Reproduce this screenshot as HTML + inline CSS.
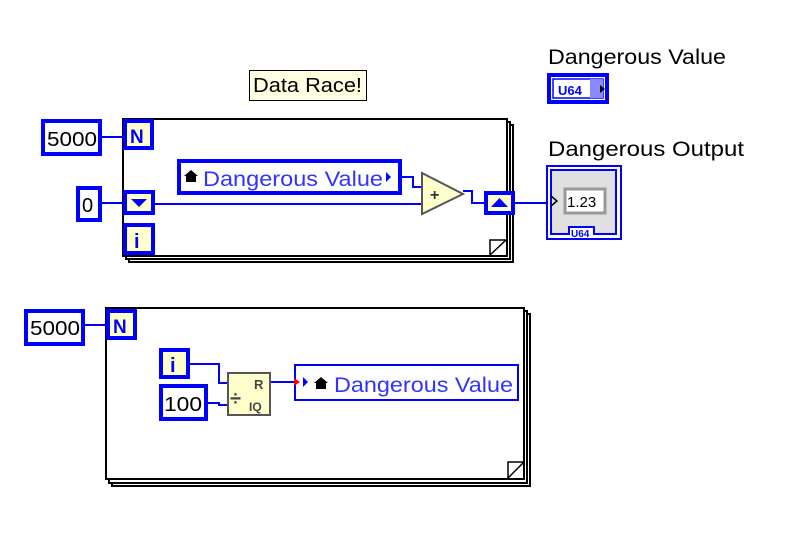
<!DOCTYPE html>
<html><head><style>body{margin:0;background:#fff}svg{display:block}text{font-family:"Liberation Sans","DejaVu Sans",sans-serif}</style></head>
<body>
<svg width="796" height="536" viewBox="0 0 796 536" xmlns="http://www.w3.org/2000/svg">
<rect width="796" height="536" fill="#fff"/>
<rect x="249.5" y="70.5" width="117" height="30" fill="#ffffe1" stroke="#000"/>
<text x="253" y="92" font-size="20" fill="#000" textLength="109" lengthAdjust="spacingAndGlyphs">Data Race!</text>

<rect x="129" y="125" width="384" height="137" fill="#fff" stroke="#000" stroke-width="2"/>
<rect x="126" y="122" width="384" height="137" fill="#fff" stroke="#000" stroke-width="2"/>
<rect x="123" y="119" width="384" height="137" fill="#fff" stroke="#000" stroke-width="2"/>
<path d="M490 255 V240 H506 M490 255 L506 240" fill="none" stroke="#000" stroke-width="1.5"/>
<path d="M101 137 H125 M101 203 H125 M153 204 H424 M401 177 H413 V187 H424 M463 191 H472 V203 H486 M515 203 H550" fill="none" stroke="#0000ff" stroke-width="2"/>
<rect x="43" y="121" width="57" height="33" fill="#fff" stroke="#0000ff" stroke-width="4"/>
<text x="47" y="146" font-size="20" fill="#000" textLength="50" lengthAdjust="spacingAndGlyphs">5000</text>
<rect x="125" y="121" width="27" height="27" fill="#ffffcc" stroke="#0000ff" stroke-width="4"/>
<text x="130" y="143" font-size="19" font-weight="bold" fill="#0000ff">N</text>
<rect x="78" y="188" width="22" height="32" fill="#fff" stroke="#0000ff" stroke-width="4"/>
<text x="82" y="212" font-size="20" fill="#000">0</text>
<rect x="125" y="192" width="28" height="21" fill="#ffffcc" stroke="#0000ff" stroke-width="4"/>
<path d="M131 199 H147 L139 207 Z" fill="#0000ff"/>
<rect x="125" y="225" width="28" height="28" fill="#ffffcc" stroke="#0000ff" stroke-width="4"/>
<text x="134" y="248" font-size="20" font-weight="bold" fill="#0000ff">i</text>
<rect x="179" y="161" width="221" height="32" fill="#fff" stroke="#0000ff" stroke-width="4"/>
<path d="M186 182 V176 H184 L191 170 L198 176 H196 V182 Z" fill="#000"/>
<text x="203" y="186" font-size="21" fill="#3333ff" textLength="180" lengthAdjust="spacingAndGlyphs">Dangerous Value</text>
<path d="M386 172 L391 177 L386 182 Z" fill="#0000ff"/>
<path d="M422 173 L463 194 L422 214 Z" fill="#ffffcc" stroke="#555" stroke-width="2"/>
<text x="430" y="200" font-size="16" font-weight="bold" fill="#333">+</text>
<rect x="486" y="193" width="27" height="20" fill="#ffffcc" stroke="#0000ff" stroke-width="4"/>
<path d="M491 207 H508 L499.5 198 Z" fill="#0000ff"/>

<text x="548" y="64" font-size="21" fill="#000" textLength="178" lengthAdjust="spacingAndGlyphs">Dangerous Value</text>
<rect x="549" y="75" width="58" height="27" fill="#fff" stroke="#0000ff" stroke-width="4"/>
<rect x="553" y="79" width="50" height="19" fill="#fff" stroke="#0000ff" stroke-width="1.5"/>
<rect x="590" y="79" width="13" height="19" fill="#8888ff"/>
<text x="558" y="95" font-size="13" font-weight="bold" fill="#0000ff">U64</text>
<path d="M600 85 L605 89 L600 93 Z" fill="#000"/>
<text x="548" y="156" font-size="21" fill="#000" textLength="196" lengthAdjust="spacingAndGlyphs">Dangerous Output</text>
<rect x="547" y="166" width="74" height="73" fill="#fff" stroke="#0000ff" stroke-width="2"/>
<path d="M551 170 H616 V234 H594 V227 H569 V234 H551 Z" fill="#e0e0e0" stroke="#0000ff" stroke-width="2"/>
<rect x="565" y="189" width="40" height="24" fill="#fff" stroke="#999" stroke-width="3"/>
<text x="567" y="207" font-size="15" fill="#000">1.23</text>
<path d="M551 196 L557 201 L551 206" fill="none" stroke="#000" stroke-width="1.5"/>
<text x="571" y="237" font-size="10" font-weight="bold" fill="#0000ff">U64</text>

<rect x="112" y="314" width="418" height="172" fill="#fff" stroke="#000" stroke-width="2"/>
<rect x="109" y="311" width="418" height="172" fill="#fff" stroke="#000" stroke-width="2"/>
<rect x="106" y="308" width="418" height="171" fill="#fff" stroke="#000" stroke-width="2"/>
<path d="M508 478 V462 H524 M508 478 L524 462" fill="none" stroke="#000" stroke-width="1.5"/>
<path d="M84 325 H108 M189 364 H219 V383 H229 M207 403 H219 V405 H229 M270 382 H296" fill="none" stroke="#0000ff" stroke-width="2"/>
<rect x="26" y="311" width="57" height="33" fill="#fff" stroke="#0000ff" stroke-width="4"/>
<text x="30" y="335" font-size="20" fill="#000" textLength="50" lengthAdjust="spacingAndGlyphs">5000</text>
<rect x="108" y="311" width="27" height="27" fill="#ffffcc" stroke="#0000ff" stroke-width="4"/>
<text x="113" y="333" font-size="19" font-weight="bold" fill="#0000ff">N</text>
<rect x="161" y="350" width="27" height="27" fill="#ffffcc" stroke="#0000ff" stroke-width="4"/>
<text x="170" y="372" font-size="20" font-weight="bold" fill="#0000ff">i</text>
<rect x="161" y="386" width="45" height="33" fill="#fff" stroke="#0000ff" stroke-width="4"/>
<text x="164" y="411" font-size="20" fill="#000" textLength="38" lengthAdjust="spacingAndGlyphs">100</text>
<rect x="228" y="373" width="42" height="42" fill="#ffffcc" stroke="#555" stroke-width="2"/>
<text x="230" y="405" font-size="20" font-weight="bold" fill="#444">÷</text>
<text x="254" y="389" font-size="13" font-weight="bold" fill="#444">R</text>
<text x="249" y="411" font-size="12" font-weight="bold" fill="#444">IQ</text>
<rect x="295" y="365" width="223" height="35" fill="#fff" stroke="#0000ff" stroke-width="2"/>
<path d="M294 378 L300 382 L294 386 Z" fill="#ff0000"/>
<path d="M303 377 L308 382 L303 387 Z" fill="#0000ff"/>
<path d="M316 389 V383 H314 L321 377 L328 383 H326 V389 Z" fill="#000"/>
<text x="334" y="392" font-size="21" fill="#3333ff" textLength="179" lengthAdjust="spacingAndGlyphs">Dangerous Value</text>
</svg>
</body></html>
